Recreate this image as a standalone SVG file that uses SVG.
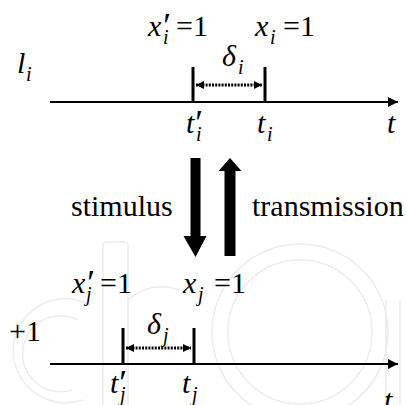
<svg xmlns="http://www.w3.org/2000/svg" width="406" height="405" viewBox="0 0 406 405">
<defs>
<style>
.m{font-family:"Liberation Serif","Times New Roman",serif;font-size:30px;font-style:italic;fill:#000}
.p{font-family:"Liberation Serif","Times New Roman",serif;font-size:36px;font-style:italic;fill:#000}
.s{font-family:"Liberation Serif","Times New Roman",serif;font-size:20px;font-style:italic;fill:#000}
.r{font-family:"Liberation Serif","Times New Roman",serif;font-size:30px;fill:#000}
.ax{stroke:#000;stroke-width:2;fill:none}
.tk{stroke:#000;stroke-width:3;fill:none}
.dt{stroke:#000;stroke-width:3;stroke-dasharray:2 1.2;fill:none}
.wm{stroke:#ececec;stroke-width:1.5;fill:none}
</style>
<marker id="ah" viewBox="0 0 10 10" refX="10" refY="5" markerWidth="10" markerHeight="10" markerUnits="userSpaceOnUse" orient="auto">
<path d="M0,0 L10,5 L0,10 z" fill="#000"/>
</marker>
<marker id="sh" viewBox="0 0 10 10" refX="10" refY="5" markerWidth="8" markerHeight="8" markerUnits="userSpaceOnUse" orient="auto-start-reverse">
<path d="M0,0 L10,5 L0,10 z" fill="#000"/>
</marker>
</defs>
<g id="watermark">
<path class="wm" d="M90,305 A52,52 0 1 0 82,400"/>
<path class="wm" d="M78,320 A38,38 0 1 0 72,390"/>
<path class="wm" d="M103,405 L103,246 Q103,242 107,242 L124,242 Q128,242 128,246 L128,405"/>
<path class="wm" d="M128,300 Q150,280 180,290"/>
<circle class="wm" cx="300" cy="332" r="88"/>
<circle class="wm" cx="300" cy="332" r="72"/>
<path class="wm" d="M386,405 L386,300 M400,405 L400,300"/>
</g>
<g id="line-i">
<text class="m" x="17" y="73">l</text>
<text class="s" x="26" y="81">i</text>
<line class="ax" x1="50" y1="102" x2="398" y2="102" marker-end="url(#ah)"/>
<line class="tk" x1="193" y1="67" x2="193" y2="103"/>
<line class="tk" x1="265" y1="67" x2="265" y2="103"/>
<line class="dt" x1="196" y1="85" x2="262" y2="85" marker-start="url(#sh)" marker-end="url(#sh)"/>
<text class="m" x="148" y="36">x</text><text class="p" x="161" y="38">′</text>
<text class="s" x="163" y="44">i</text>
<text class="r" x="176" y="36">=1</text>
<text class="m" x="255" y="36">x</text>
<text class="s" x="270" y="44">i</text>
<text class="r" x="283" y="36">=1</text>
<text class="m" x="222" y="66">δ</text>
<text class="s" x="238" y="74">i</text>
<text class="m" x="186" y="133">t</text><text class="p" x="193" y="135">′</text>
<text class="s" x="196" y="141">i</text>
<text class="m" x="257" y="133">t</text>
<text class="s" x="267" y="141">i</text>
<text class="m" x="387" y="133">t</text>
</g>
<g id="connectors">
<path d="M190.5,158 L200.5,158 L200.5,236 L206.5,236 L195.5,257 L183.5,236 L190.5,236 Z" fill="#000"/>
<path d="M224.5,256 L235.5,256 L235.5,171 L241.5,171 L230,158 L218.5,171 L224.5,171 Z" fill="#000"/>
<text class="r" x="71" y="216">stimulus</text>
<text class="r" x="252" y="216">transmission</text>
</g>
<g id="line-j">
<text class="r" x="9" y="341">+1</text>
<line class="ax" x1="50" y1="364" x2="398" y2="364" marker-end="url(#ah)"/>
<line class="tk" x1="123" y1="328" x2="123" y2="365"/>
<line class="tk" x1="194" y1="328" x2="194" y2="365"/>
<line class="dt" x1="126" y1="348" x2="191" y2="348" marker-start="url(#sh)" marker-end="url(#sh)"/>
<text class="m" x="72" y="293">x</text><text class="p" x="85" y="295">′</text>
<text class="s" x="86" y="301">j</text>
<text class="r" x="100" y="293">=1</text>
<text class="m" x="183" y="293">x</text>
<text class="s" x="198" y="301">j</text>
<text class="r" x="214" y="293">=1</text>
<text class="m" x="147" y="334">δ</text>
<text class="s" x="163" y="342">j</text>
<text class="m" x="110" y="393">t</text><text class="p" x="117" y="395">′</text>
<text class="s" x="120" y="401">j</text>
<text class="m" x="182" y="393">t</text>
<text class="s" x="192" y="401">j</text>
<text class="m" x="384" y="410">t</text>
</g>
</svg>
